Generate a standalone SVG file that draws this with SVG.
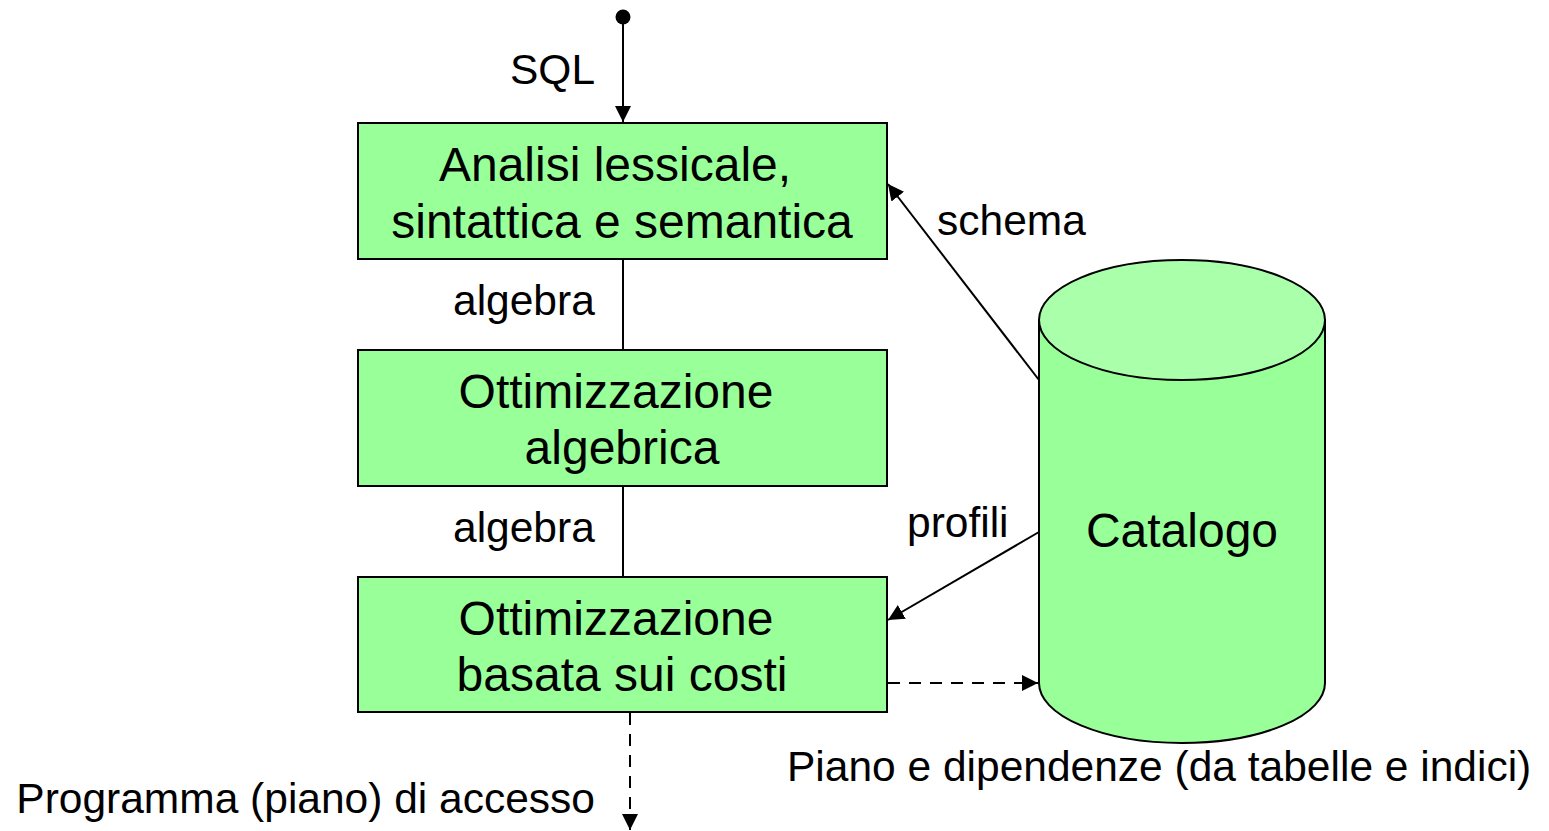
<svg xmlns="http://www.w3.org/2000/svg" width="1549" height="831" viewBox="0 0 1549 831">
<style>
text{font-family:"Liberation Sans",Arial,sans-serif;fill:#000}
.b{font-size:48px;text-anchor:middle}
.l{font-size:42.5px}
.box{fill:#99ff99;stroke:#000;stroke-width:2}
.ln{stroke:#000;stroke-width:2;fill:none}
.d{stroke-dasharray:12,9}
</style>
<defs>
<marker id="ah" viewBox="0 0 10 10" refX="10" refY="5" markerWidth="16" markerHeight="16" markerUnits="userSpaceOnUse" orient="auto"><path d="M0,0L10,5L0,10z" fill="#000"/></marker>
</defs>
<rect width="1549" height="831" fill="#fff"/>
<g id="connectors">
<circle cx="623" cy="17" r="7.5" fill="#000"/>
<line class="ln" x1="623" y1="17" x2="623" y2="122" marker-end="url(#ah)"/>
<line class="ln" x1="623" y1="259" x2="623" y2="350"/>
<line class="ln" x1="623" y1="486" x2="623" y2="577"/>
<line class="ln" x1="1039" y1="380" x2="888" y2="184" marker-end="url(#ah)"/>
<line class="ln" x1="1039" y1="532" x2="888" y2="620" marker-end="url(#ah)"/>
<line class="ln d" x1="888" y1="683" x2="1038" y2="683" marker-end="url(#ah)"/>
<line class="ln d" x1="630" y1="713" x2="630" y2="830" marker-end="url(#ah)"/>
<text class="l" x="510" y="84">SQL</text>
<text class="l" x="453" y="315">algebra</text>
<text class="l" x="453" y="542">algebra</text>
<text class="l" x="937" y="235">schema</text>
<text class="l" x="907" y="537">profili</text>
<text class="l" x="595" y="813" text-anchor="end">Programma (piano) di accesso</text>
<text class="l" x="787" y="781">Piano e dipendenze (da tabelle e indici)</text>
</g>
<g id="analisi">
<rect class="box" x="358" y="123" width="529" height="136"/>
<text class="b" x="615" y="181">Analisi lessicale,</text>
<text class="b" x="622" y="238">sintattica e semantica</text>
</g>
<g id="ott-algebrica">
<rect class="box" x="358" y="350" width="529" height="136"/>
<text class="b" x="616" y="408">Ottimizzazione</text>
<text class="b" x="622" y="464">algebrica</text>
</g>
<g id="ott-costi">
<rect class="box" x="358" y="577" width="529" height="135"/>
<text class="b" x="616" y="635">Ottimizzazione</text>
<text class="b" x="622" y="691">basata sui costi</text>
</g>
<g id="catalogo">
<path d="M1039,320 L1039,683 A143,60 0 0 0 1325,683 L1325,320 Z" fill="#99ff99" stroke="#000" stroke-width="2"/>
<ellipse cx="1182" cy="320" rx="143" ry="60" fill="#aaffaa" stroke="#000" stroke-width="2"/>
<text class="b" x="1182" y="547">Catalogo</text>
</g>
</svg>
